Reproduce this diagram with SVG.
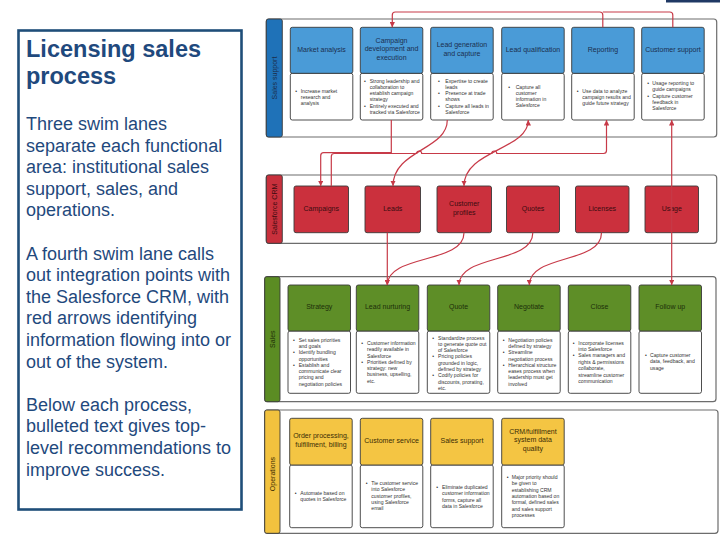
<svg xmlns="http://www.w3.org/2000/svg" width="720" height="540" viewBox="0 0 720 540">
<style>
.lane{fill:#fff;stroke:#6d6d6d;stroke-width:1.2}
.box{stroke:#3a3a3a;stroke-width:0.9}
.det{fill:#fff;stroke:#3a3a3a;stroke-width:0.9}
.hb{fill:#4a9bd7}
.hr{fill:#cb303d}
.hg{fill:#5e8e27}
.hy{fill:#f4c543}
.ht{font-family:"Liberation Sans",Arial,sans-serif;font-size:7px;text-anchor:middle}
.tb{fill:#1b2f4f}.tr{fill:#3a0c10}.tg{fill:#1d2e0a}.ty{fill:#3b2c05}
.dt{font-family:"Liberation Sans",Arial,sans-serif;font-size:5.1px;fill:#333}
.ll{font-family:"Liberation Sans",Arial,sans-serif;font-size:7px;text-anchor:middle}
.conn{fill:none;stroke:#c73a48;stroke-width:1.2}
.side{font-family:"Liberation Sans",Arial,sans-serif;fill:#1f497d}
</style>
<defs>
<marker id="arr" viewBox="0 0 6 6" refX="6" refY="3" markerWidth="5.5" markerHeight="5.5" markerUnits="userSpaceOnUse" orient="auto-start-reverse">
<path d="M0,0 L6,3 L0,6 z" fill="#c73a48"/>
</marker>
</defs>
<rect width="720" height="540" fill="#fff"/>
<rect x="666" y="0" width="54" height="2.5" fill="#1f3864"/>

<g id="intro">
<rect x="18.5" y="30.5" width="223" height="479" fill="#fff" stroke="#1f4e79" stroke-width="2.6"/>
<text class="side" font-size="23.5" font-weight="bold" x="26" y="57">Licensing sales</text>
<text class="side" font-size="23.5" font-weight="bold" x="26" y="84">process</text>
<text class="side" font-size="18" x="26">
<tspan x="26" y="130">Three swim lanes</tspan>
<tspan x="26" y="151.6">separate each functional</tspan>
<tspan x="26" y="173.2">area: institutional sales</tspan>
<tspan x="26" y="194.8">support, sales, and</tspan>
<tspan x="26" y="216.4">operations.</tspan>
<tspan x="26" y="259.6">A fourth swim lane calls</tspan>
<tspan x="26" y="281.2">out integration points with</tspan>
<tspan x="26" y="302.8">the Salesforce CRM, with</tspan>
<tspan x="26" y="324.4">red arrows identifying</tspan>
<tspan x="26" y="346">information flowing into or</tspan>
<tspan x="26" y="367.6">out of the system.</tspan>
<tspan x="26" y="410.8">Below each process,</tspan>
<tspan x="26" y="432.4">bulleted text gives top-</tspan>
<tspan x="26" y="454">level recommendations to</tspan>
<tspan x="26" y="475.6">improve success.</tspan>
</text>
</g>

<!-- Lanes -->
<g id="lane-sales-support">
<rect class="lane" x="266.3" y="19" width="450.4" height="118" rx="3"/>
<rect x="266.3" y="19" width="16" height="118" rx="2" fill="#1f72b8" stroke="#3a3a3a" stroke-width="0.9"/>
<text class="ll" fill="#1c2e4a" x="0" y="2.5" transform="translate(274.3 78) rotate(-90)">Sales support</text>
</g>
<g id="lane-crm">
<rect class="lane" x="266.3" y="175" width="450.4" height="68.3" rx="3"/>
<rect x="266.3" y="175" width="16" height="68.3" rx="2" fill="#c8303c" stroke="#3a3a3a" stroke-width="0.9"/>
<text class="ll" fill="#3b0b10" x="0" y="2.5" transform="translate(274.3 209.2) rotate(-90)">Salesforce CRM</text>
</g>
<g id="lane-sales">
<rect class="lane" x="264.7" y="276.7" width="451.3" height="125" rx="3"/>
<rect x="264.7" y="276.7" width="15.3" height="125" rx="2" fill="#5b8c23" stroke="#3a3a3a" stroke-width="0.9"/>
<text class="ll" fill="#1e3008" x="0" y="2.5" transform="translate(272.3 339.2) rotate(-90)">Sales</text>
</g>
<g id="lane-operations">
<rect class="lane" x="264.7" y="410" width="453.3" height="123.3" rx="3"/>
<rect x="264.7" y="410" width="15.3" height="123.3" rx="2" fill="#f2c23e" stroke="#3a3a3a" stroke-width="0.9"/>
<text class="ll" fill="#3a2a00" x="0" y="2.5" transform="translate(272.3 474) rotate(-90)">Operations</text>
</g>

<!-- Sales support nodes -->
<g id="market-analysis">
<rect class="det" x="290.3" y="73.3" width="62.5" height="46.7" rx="2"/>
<rect class="box hb" x="290.3" y="27.3" width="62.5" height="46" rx="2"/>
<text class="ht tb" x="321.55" y="51.6">Market analysis</text>
<text class="dt"><tspan x="295.3" y="92.5">•</tspan><tspan x="300.7" y="92.5">Increase market</tspan><tspan x="300.7" y="98.8">research and</tspan><tspan x="300.7" y="105.1">analysis</tspan></text>
</g>
<g id="campaign-development">
<rect class="det" x="360.3" y="73.3" width="62.5" height="46.7" rx="2"/>
<rect class="box hb" x="360.3" y="27.3" width="62.5" height="46" rx="2"/>
<text class="ht tb"><tspan x="391.55" y="43">Campaign</tspan><tspan x="391.55" y="51.3">development and</tspan><tspan x="391.55" y="59.6">execution</tspan></text>
<text class="dt"><tspan x="364" y="82.5">•</tspan><tspan x="369.7" y="82.5">Strong leadership and</tspan><tspan x="369.7" y="88.8">collaboration to</tspan><tspan x="369.7" y="95.1">establish campaign</tspan><tspan x="369.7" y="101.4">strategy</tspan><tspan x="364" y="107.7">•</tspan><tspan x="369.7" y="107.7">Entirely executed and</tspan><tspan x="369.7" y="114">tracked via Salesforce</tspan></text>
</g>
<g id="lead-generation">
<rect class="det" x="430.7" y="73.3" width="62.5" height="46.7" rx="2"/>
<rect class="box hb" x="430.7" y="27.3" width="62.5" height="46" rx="2"/>
<text class="ht tb"><tspan x="461.95" y="47.3">Lead generation</tspan><tspan x="461.95" y="55.6">and capture</tspan></text>
<text class="dt"><tspan x="438" y="82.5">•</tspan><tspan x="445.3" y="82.5">Expertise to create</tspan><tspan x="445.3" y="88.8">leads</tspan><tspan x="438" y="95.1">•</tspan><tspan x="445.3" y="95.1">Presence at trade</tspan><tspan x="445.3" y="101.4">shows</tspan><tspan x="438" y="107.7">•</tspan><tspan x="445.3" y="107.7">Capture all leads in</tspan><tspan x="445.3" y="114">Salesforce</tspan></text>
</g>
<g id="lead-qualification">
<rect class="det" x="501.7" y="73.3" width="62.5" height="46.7" rx="2"/>
<rect class="box hb" x="501.7" y="27.3" width="62.5" height="46" rx="2"/>
<text class="ht tb" x="532.95" y="51.6">Lead qualification</text>
<text class="dt"><tspan x="508.3" y="88.5">•</tspan><tspan x="515.7" y="88.5">Capture all</tspan><tspan x="515.7" y="94.8">customer</tspan><tspan x="515.7" y="101.1">information in</tspan><tspan x="515.7" y="107.4">Salesforce</tspan></text>
</g>
<g id="reporting">
<rect class="det" x="571.7" y="73.3" width="62.5" height="46.7" rx="2"/>
<rect class="box hb" x="571.7" y="27.3" width="62.5" height="46" rx="2"/>
<text class="ht tb" x="602.95" y="51.6">Reporting</text>
<text class="dt"><tspan x="576.7" y="92.5">•</tspan><tspan x="582.3" y="92.5">Use data to analyze</tspan><tspan x="582.3" y="98.8">campaign results and</tspan><tspan x="582.3" y="105.1">guide future strategy</tspan></text>
</g>
<g id="customer-support">
<rect class="det" x="641.7" y="73.3" width="62.5" height="46.7" rx="2"/>
<rect class="box hb" x="641.7" y="27.3" width="62.5" height="46" rx="2"/>
<text class="ht tb" x="672.95" y="51.6">Customer support</text>
<text class="dt"><tspan x="647.3" y="85.1">•</tspan><tspan x="652.3" y="85.1">Usage reporting to</tspan><tspan x="652.3" y="91.4">guide campaigns</tspan><tspan x="647.3" y="97.7">•</tspan><tspan x="652.3" y="97.7">Capture customer</tspan><tspan x="652.3" y="104">feedback in</tspan><tspan x="652.3" y="110.3">Salesforce</tspan></text>
</g>

<!-- CRM nodes -->
<g id="campaigns"><rect class="box hr" x="294" y="186" width="54.5" height="46.7" rx="2"/><text class="ht tr" x="321.25" y="210.8">Campaigns</text></g>
<g id="leads"><rect class="box hr" x="365" y="186" width="55.5" height="46.7" rx="2"/><text class="ht tr" x="392.75" y="210.8">Leads</text></g>
<g id="customer-profiles"><rect class="box hr" x="437" y="186" width="54.5" height="46.7" rx="2"/><text class="ht tr"><tspan x="464.25" y="206.3">Customer</tspan><tspan x="464.25" y="214.6">profiles</tspan></text></g>
<g id="quotes"><rect class="box hr" x="506.5" y="186" width="53" height="46.7" rx="2"/><text class="ht tr" x="533" y="210.8">Quotes</text></g>
<g id="licenses"><rect class="box hr" x="575.5" y="186" width="53.5" height="46.7" rx="2"/><text class="ht tr" x="602.25" y="210.8">Licenses</text></g>
<g id="usage"><rect class="box hr" x="645" y="186" width="53.5" height="46.7" rx="2"/><text class="ht tr" x="671.75" y="210.8">Usage</text></g>

<!-- Sales nodes -->
<g id="strategy">
<rect class="det" x="288" y="331" width="62.5" height="62.3" rx="2"/>
<rect class="box hg" x="288" y="285" width="62.5" height="46" rx="2"/>
<text class="ht tg" x="319.25" y="309">Strategy</text>
<text class="dt"><tspan x="293" y="341.8">•</tspan><tspan x="298.7" y="341.8">Set sales priorities</tspan><tspan x="298.7" y="348.05">and goals</tspan><tspan x="293" y="354.3">•</tspan><tspan x="298.7" y="354.3">Identify bundling</tspan><tspan x="298.7" y="360.55">opportunities</tspan><tspan x="293" y="366.8">•</tspan><tspan x="298.7" y="366.8">Establish and</tspan><tspan x="298.7" y="373.05">communicate clear</tspan><tspan x="298.7" y="379.3">pricing and</tspan><tspan x="298.7" y="385.55">negotiation policies</tspan></text>
</g>
<g id="lead-nurturing">
<rect class="det" x="356.3" y="331" width="62.5" height="62.3" rx="2"/>
<rect class="box hg" x="356.3" y="285" width="62.5" height="46" rx="2"/>
<text class="ht tg" x="387.55" y="309">Lead nurturing</text>
<text class="dt"><tspan x="361.3" y="345.1">•</tspan><tspan x="367" y="345.1">Customer information</tspan><tspan x="367" y="351.35">readily available in</tspan><tspan x="367" y="357.6">Salesforce</tspan><tspan x="361.3" y="363.85">•</tspan><tspan x="367" y="363.85">Priorities defined by</tspan><tspan x="367" y="370.1">strategy: new</tspan><tspan x="367" y="376.35">business, upselling,</tspan><tspan x="367" y="382.6">etc.</tspan></text>
</g>
<g id="quote">
<rect class="det" x="427.3" y="331" width="62.5" height="62.3" rx="2"/>
<rect class="box hg" x="427.3" y="285" width="62.5" height="46" rx="2"/>
<text class="ht tg" x="458.55" y="309">Quote</text>
<text class="dt"><tspan x="432.3" y="339.5">•</tspan><tspan x="438" y="339.5">Standardize process</tspan><tspan x="438" y="345.8">to generate quote out</tspan><tspan x="438" y="352.1">of Salesforce</tspan><tspan x="432.3" y="358.4">•</tspan><tspan x="438" y="358.4">Pricing policies</tspan><tspan x="438" y="364.7">grounded in logic,</tspan><tspan x="438" y="371">defined by strategy</tspan><tspan x="432.3" y="377.3">•</tspan><tspan x="438" y="377.3">Codify policies for</tspan><tspan x="438" y="383.6">discounts, prorating,</tspan><tspan x="438" y="389.9">etc.</tspan></text>
</g>
<g id="negotiate">
<rect class="det" x="497.7" y="331" width="62.5" height="62.3" rx="2"/>
<rect class="box hg" x="497.7" y="285" width="62.5" height="46" rx="2"/>
<text class="ht tg" x="528.95" y="309">Negotiate</text>
<text class="dt"><tspan x="502.7" y="341.8">•</tspan><tspan x="508.3" y="341.8">Negotiation policies</tspan><tspan x="508.3" y="348.05">defined by strategy</tspan><tspan x="502.7" y="354.3">•</tspan><tspan x="508.3" y="354.3">Streamline</tspan><tspan x="508.3" y="360.55">negotiation process</tspan><tspan x="502.7" y="366.8">•</tspan><tspan x="508.3" y="366.8">Hierarchical structure</tspan><tspan x="508.3" y="373.05">eases process when</tspan><tspan x="508.3" y="379.3">leadership must get</tspan><tspan x="508.3" y="385.55">involved</tspan></text>
</g>
<g id="close">
<rect class="det" x="568.3" y="331" width="62.5" height="62.3" rx="2"/>
<rect class="box hg" x="568.3" y="285" width="62.5" height="46" rx="2"/>
<text class="ht tg" x="599.55" y="309">Close</text>
<text class="dt"><tspan x="572.7" y="344.5">•</tspan><tspan x="578.3" y="344.5">Incorporate licenses</tspan><tspan x="578.3" y="350.9">into Salesforce</tspan><tspan x="572.7" y="357.3">•</tspan><tspan x="578.3" y="357.3">Sales managers and</tspan><tspan x="578.3" y="363.7">rights &amp; permissions</tspan><tspan x="578.3" y="370.1">collaborate,</tspan><tspan x="578.3" y="376.5">streamline customer</tspan><tspan x="578.3" y="382.9">communication</tspan></text>
</g>
<g id="follow-up">
<rect class="det" x="639" y="331" width="62.5" height="62.3" rx="2"/>
<rect class="box hg" x="639" y="285" width="62.5" height="46" rx="2"/>
<text class="ht tg" x="670.25" y="309">Follow up</text>
<text class="dt"><tspan x="645" y="357.1">•</tspan><tspan x="650" y="357.1">Capture customer</tspan><tspan x="650" y="363.4">data, feedback, and</tspan><tspan x="650" y="369.7">usage</tspan></text>
</g>

<!-- Operations nodes -->
<g id="order-processing">
<rect class="det" x="289.7" y="465" width="62.5" height="62.7" rx="2"/>
<rect class="box hy" x="289.7" y="418.3" width="62.5" height="46.7" rx="2"/>
<text class="ht ty"><tspan x="320.95" y="438.3">Order processing,</tspan><tspan x="320.95" y="446.6">fulfillment, billing</tspan></text>
<text class="dt"><tspan x="294.7" y="495.1">•</tspan><tspan x="300.3" y="495.1">Automate based on</tspan><tspan x="300.3" y="501.3">quotes in Salesforce</tspan></text>
</g>
<g id="customer-service">
<rect class="det" x="360.3" y="465" width="62.5" height="62.7" rx="2"/>
<rect class="box hy" x="360.3" y="418.3" width="62.5" height="46.7" rx="2"/>
<text class="ht ty" x="391.55" y="443">Customer service</text>
<text class="dt"><tspan x="365.7" y="485.1">•</tspan><tspan x="371.3" y="485.1">Tie customer service</tspan><tspan x="371.3" y="491.35">into Salesforce</tspan><tspan x="371.3" y="497.6">customer profiles,</tspan><tspan x="371.3" y="503.85">using Salesforce</tspan><tspan x="371.3" y="510.1">email</tspan></text>
</g>
<g id="sales-support">
<rect class="det" x="430.7" y="465" width="62.5" height="62.7" rx="2"/>
<rect class="box hy" x="430.7" y="418.3" width="62.5" height="46.7" rx="2"/>
<text class="ht ty" x="461.95" y="443">Sales support</text>
<text class="dt"><tspan x="436.3" y="489.1">•</tspan><tspan x="442" y="489.1">Eliminate duplicated</tspan><tspan x="442" y="495.4">customer information</tspan><tspan x="442" y="501.7">forms, capture all</tspan><tspan x="442" y="508">data in Salesforce</tspan></text>
</g>
<g id="crm-data-quality">
<rect class="det" x="501.7" y="465" width="62.5" height="62.7" rx="2"/>
<rect class="box hy" x="501.7" y="418.3" width="62.5" height="46.7" rx="2"/>
<text class="ht ty"><tspan x="532.95" y="434">CRM/fulfillment</tspan><tspan x="532.95" y="442.3">system data</tspan><tspan x="532.95" y="450.6">quality</tspan></text>
<text class="dt"><tspan x="506.7" y="479.1">•</tspan><tspan x="511.7" y="479.1">Major priority should</tspan><tspan x="511.7" y="485.4">be given to</tspan><tspan x="511.7" y="491.8">establishing CRM</tspan><tspan x="511.7" y="498.1">automation based on</tspan><tspan x="511.7" y="504.4">formal, defined sales</tspan><tspan x="511.7" y="510.8">and sales support</tspan><tspan x="511.7" y="517.1">processes</tspan></text>
</g>

<!-- Connectors -->
<g id="connectors">
<path class="conn" d="M602.8 27.3 V15 Q602.8 12 599.8 12 H395.3 Q392.3 12 392.3 15 V27.3" marker-end="url(#arr)"/>
<path class="conn" d="M672.8 27.3 V15 Q672.8 12 669.8 12 H602.8"/>
<path class="conn" d="M391.3 120 V152.7 H323.7 Q320.7 152.7 320.7 155.7 V186" marker-end="url(#arr)"/>
<path class="conn" d="M331.3 186 V156.5 Q331.3 153.5 334.3 153.5 H416.7 A2.5 2.5 0 0 1 421.7 153.5 H491.8 A2.5 2.5 0 0 1 496.8 153.5 H603.5 Q606.5 153.5 606.5 150.5 V120" marker-end="url(#arr)"/>
<path class="conn" d="M447.3 120 C447.3 150 393 150 393 186" marker-end="url(#arr)"/>
<path class="conn" d="M528.3 120 C528.3 150 464 150 464 186" marker-start="url(#arr)" marker-end="url(#arr)"/>
<path class="conn" d="M671.7 232.7 V120" marker-end="url(#arr)"/>
<path class="conn" d="M671.7 232.7 V285" marker-end="url(#arr)"/>
<path class="conn" d="M387.3 232.7 V285" marker-end="url(#arr)"/>
<path class="conn" d="M464 232.7 C464 264 387.3 254 387.3 285" marker-end="url(#arr)"/>
<path class="conn" d="M532.8 232.7 C532.8 264 459 254 459 285" marker-end="url(#arr)"/>
<path class="conn" d="M601.5 232.7 C601.5 264 529.3 254 529.3 285" marker-end="url(#arr)"/>
</g>
</svg>
